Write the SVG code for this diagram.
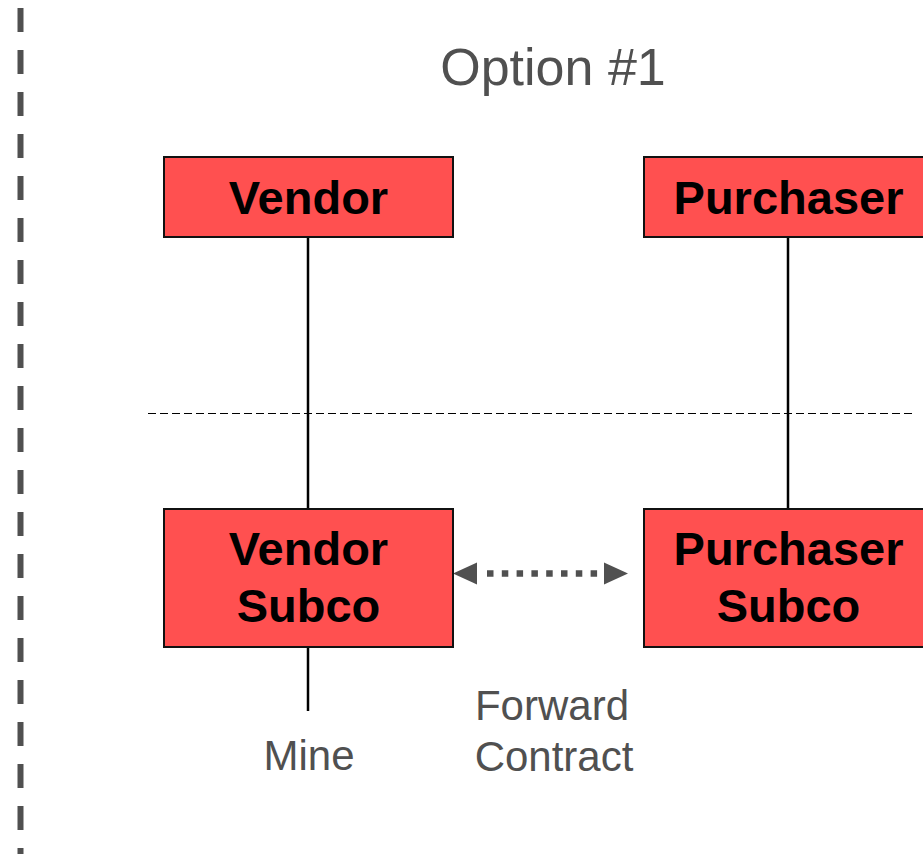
<svg xmlns="http://www.w3.org/2000/svg" width="923" height="854" viewBox="0 0 923 854">
  <defs>
    <style>
      .box { fill: #FF5050; stroke: #111; stroke-width: 2; }
      .lbl { font-family: "Liberation Sans", Arial, sans-serif; font-weight: bold; font-size: 47px; fill: #000; text-anchor: middle; }
      .note { font-family: "Liberation Sans", Arial, sans-serif; font-size: 42px; fill: #505050; text-anchor: middle; }
      .link { stroke: #000; stroke-width: 2.5; fill: none; }
      .head { fill: #505050; }
    </style>
  </defs>

  <rect width="923" height="854" fill="#fff"/>

  <!-- left border -->
  <line x1="20.5" y1="8" x2="20.5" y2="854" stroke="#505050" stroke-width="6" stroke-dasharray="24 18"/>

  <!-- divider between parent and subsidiary tiers -->
  <line x1="148" y1="413.5" x2="913" y2="413.5" stroke="#000" stroke-width="1" stroke-dasharray="8 4"/>

  <text class="note" x="553" y="85" style="font-size:52px">Option #1</text>

  <g id="connectors">
    <line class="link" x1="308" y1="237" x2="308" y2="509"/>
    <line class="link" x1="788" y1="237" x2="788" y2="509"/>
    <line class="link" x1="308" y1="647" x2="308" y2="711"/>
    <!-- dotted forward-contract link with a head at each end -->
    <line x1="487" y1="573.5" x2="600" y2="573.5" stroke="#505050" stroke-width="6.5" stroke-dasharray="6.5 8.3"/>
    <path class="head" d="M477,562.5 L453,573.5 L477,584.5 Z"/>
    <path class="head" d="M604,562.5 L628,573.5 L604,584.5 Z"/>
  </g>

  <g id="vendor">
    <rect class="box" x="164" y="157" width="289" height="80"/>
    <text class="lbl" x="308.5" y="214">Vendor</text>
  </g>

  <g id="purchaser">
    <rect class="box" x="644" y="157" width="289" height="80"/>
    <text class="lbl" x="788.5" y="214">Purchaser</text>
  </g>

  <g id="vendor-subco">
    <rect class="box" x="164" y="509" width="289" height="138"/>
    <text class="lbl" x="308.5" y="565">Vendor</text>
    <text class="lbl" x="308.5" y="622">Subco</text>
  </g>

  <g id="purchaser-subco">
    <rect class="box" x="644" y="509" width="289" height="138"/>
    <text class="lbl" x="788.5" y="565">Purchaser</text>
    <text class="lbl" x="788.5" y="622">Subco</text>
  </g>

  <g id="mine">
    <text class="note" x="309" y="770">Mine</text>
  </g>

  <g id="forward-contract">
    <text class="note" x="552" y="720">Forward</text>
    <text class="note" x="554" y="771">Contract</text>
  </g>
</svg>
